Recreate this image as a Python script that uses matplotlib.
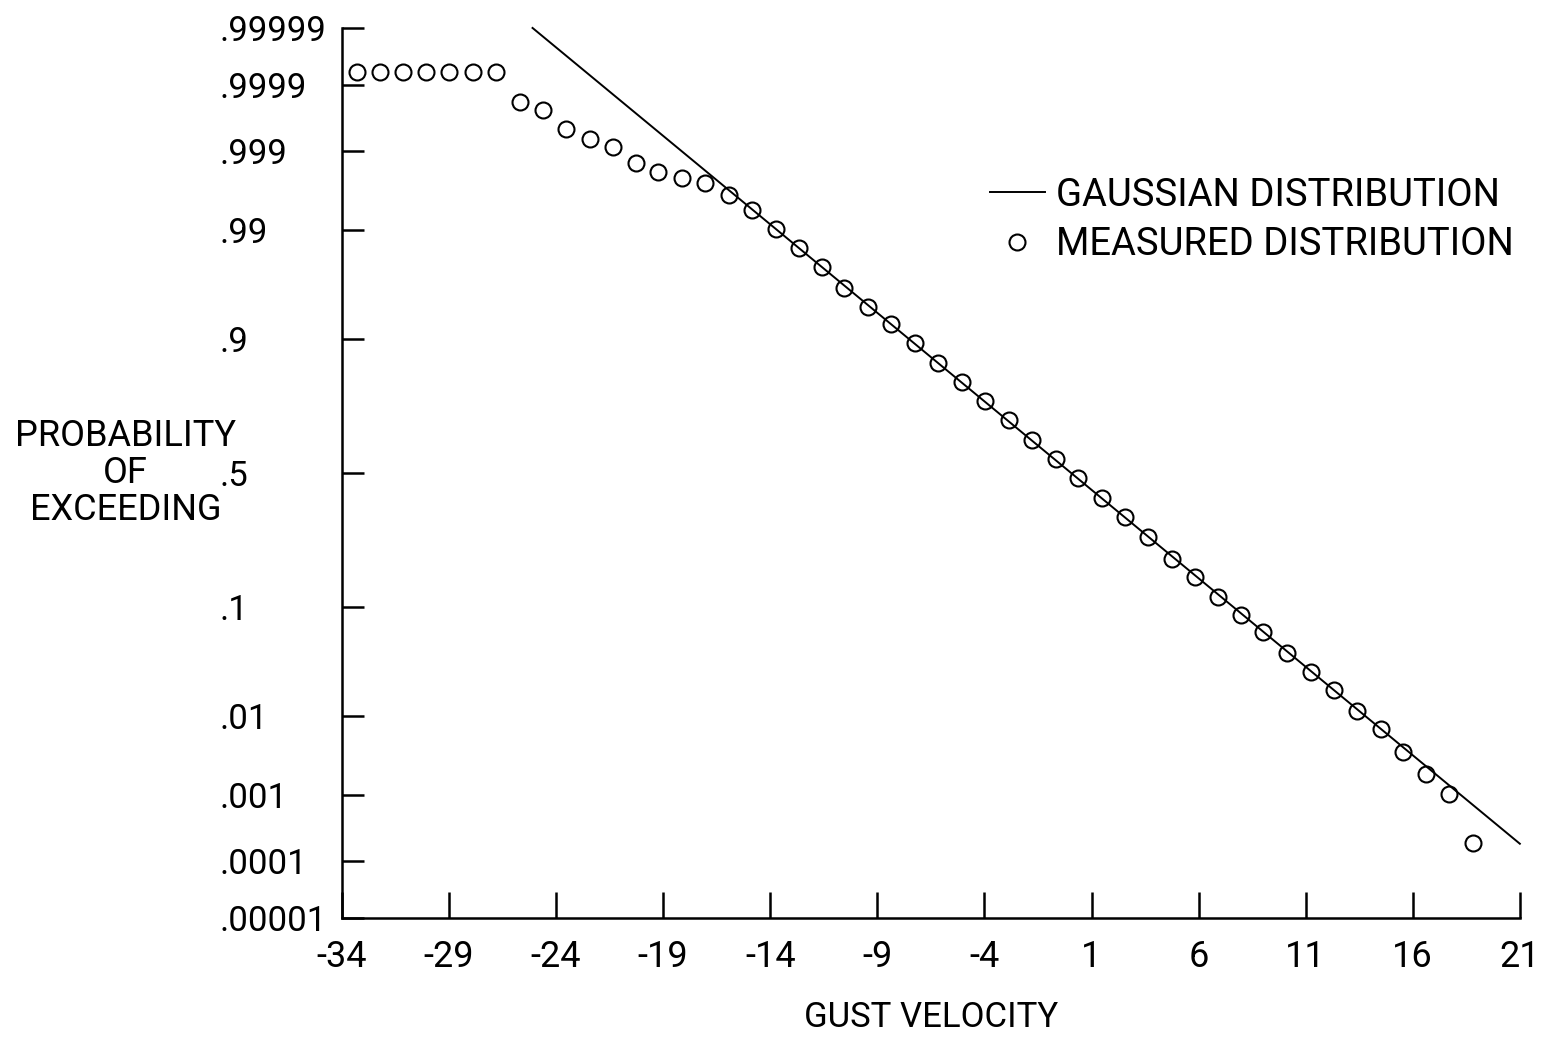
import math

import numpy as np
import matplotlib
matplotlib.use("Agg")
import matplotlib.pyplot as plt

# Measured distribution (gust velocity, probability of exceeding)
measured_v = [-33.30, -32.24, -31.15, -30.08, -28.99, -27.90, -26.81,
              -25.68, -24.62, -23.53, -22.44, -21.35, -20.26, -19.22,
              -18.13, -17.04, -15.95, -14.86, -13.72, -12.68, -11.59,
              -10.54, -9.42, -8.36, -7.24, -6.19, -5.06, -3.97, -2.83,
              -1.76, -0.67, 0.38, 1.48, 2.57, 3.66, 4.75, 5.84, 6.92,
              7.97, 9.02, 10.15, 11.25, 12.34, 13.41, 14.51, 15.56,
              16.62, 17.71, 18.80]
measured_p = [0.99994, 0.99994, 0.99994, 0.99994, 0.99994, 0.99994, 0.99994,
              0.99981, 0.99975, 0.99951, 0.99931, 0.99912, 0.99850, 0.99806,
              0.99763, 0.99730, 0.99614, 0.99415, 0.99026, 0.9844, 0.9760,
              0.9617, 0.9445, 0.9234, 0.8931, 0.8544, 0.8090, 0.7557, 0.6942,
              0.6239, 0.5532, 0.4797, 0.4043, 0.3377, 0.2709, 0.2052, 0.1587,
              0.1179, 0.0867, 0.0633, 0.0420, 0.0285, 0.0187, 0.0114, 0.0070,
              0.00371, 0.00196, 0.00105, 0.000193]

# Gaussian distribution (straight line on probability paper)
gauss_v = [-25.1, 21.0]
gauss_p = [0.99999, 0.00019]

x_ticks = [-34, -29, -24, -19, -14, -9, -4, 1, 6, 11, 16, 21]
x_tick_labels = ['-34', '-29', '-24', '-19', '-14', '-9', '-4', '1', '6',
                 '11', '16', '21']
y_ticks = [0.00001, 0.0001, 0.001, 0.01, 0.1, 0.5, 0.9, 0.99, 0.999,
           0.9999, 0.99999]
y_tick_labels = ['.00001', '.0001', '.001', '.01', '.1', '.5', '.9', '.99',
                 '.999', '.9999', '.99999']

_erfc = np.vectorize(math.erfc, otypes=[float])


def probit_inv(z):
    # normal cdf
    return 0.5 * _erfc(-np.asarray(z, dtype=float) / math.sqrt(2.0))


def probit(p):
    # normal quantile by bisection
    p = np.clip(np.asarray(p, dtype=float), 1e-12, 1 - 1e-12)
    lo = np.full_like(p, -8.0)
    hi = np.full_like(p, 8.0)
    for _ in range(60):
        mid = 0.5 * (lo + hi)
        below = probit_inv(mid) < p
        lo = np.where(below, mid, lo)
        hi = np.where(below, hi, mid)
    return 0.5 * (lo + hi)


def main():
    plt.rcParams['font.family'] = ['Roboto', 'DejaVu Sans']

    fig = plt.figure(figsize=(15.43, 10.39), dpi=100)
    ax = fig.add_axes([0.2216, 0.1165, 0.7634, 0.8566])
    ax.set_yscale('function', functions=(probit, probit_inv))

    line, = ax.plot(gauss_v, gauss_p, color='black', lw=1.4, clip_on=False)
    pts, = ax.plot(measured_v, measured_p, ls='none', marker='o', ms=11.5,
                   mfc='none', mec='black', mew=1.5, clip_on=False)

    ax.set_xlim(-34, 21)
    ax.set_ylim(0.00001, 0.99999)

    for side in ('top', 'right'):
        ax.spines[side].set_visible(False)
    for side in ('left', 'bottom'):
        ax.spines[side].set_linewidth(1.8)

    ax.set_xticks(x_ticks)
    ax.set_xticklabels(x_tick_labels, fontsize=26)
    ax.set_yticks(y_ticks)
    ax.set_yticklabels(y_tick_labels, fontsize=25)
    ax.minorticks_off()
    ax.tick_params(axis='x', direction='in', length=19, width=1.8, pad=15)
    ax.tick_params(axis='y', direction='in', length=16, width=1.8, pad=88)
    for lab in ax.get_yticklabels():
        lab.set_horizontalalignment('left')

    ax.set_xlabel("GUST VELOCITY", fontsize=25)
    ax.xaxis.set_label_coords(0.5, -0.1124)
    ax.xaxis.label.set_verticalalignment('center')
    ax.set_ylabel("PROBABILITY\nOF\nEXCEEDING", fontsize=26, rotation=0,
                  ha='center', va='center', linespacing=1.05)
    ax.yaxis.set_label_coords(-0.1835, 0.5)

    ax.legend([line, pts], ["GAUSSIAN DISTRIBUTION", "MEASURED DISTRIBUTION"],
              loc='upper left', bbox_to_anchor=(0.550, 0.8328),
              frameon=False, fontsize=27.5, handlelength=1.44,
              handletextpad=0.3, labelspacing=0.32, borderpad=0,
              borderaxespad=0, numpoints=1)

    fig.savefig("out.png", dpi=100)


if __name__ == "__main__":
    main()
